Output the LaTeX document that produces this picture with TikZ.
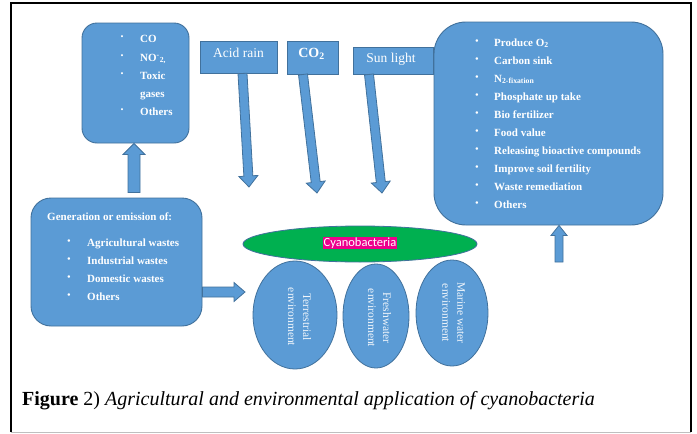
\documentclass[tikz,border=0pt]{standalone}
\usepackage{fontspec}
\setmainfont{Liberation Serif}
\newfontfamily\calfont{Carlito}
\usetikzlibrary{calc,shapes.geometric}
\definecolor{boxblue}{HTML}{5B9BD5}
\definecolor{boxline}{HTML}{41719C}
\definecolor{cyangreen}{HTML}{00B050}
\tikzset{
  blbox/.style={rectangle, draw=boxline, fill=boxblue, line width=0.9pt, inner sep=0},
  boxtxt/.style={text=white, font=\fontsize{11}{13}\selectfont\bfseries, anchor=base west, inner sep=0},
  bul/.style={text=white, font=\fontsize{10.5}{12}\selectfont, inner sep=0},
  toptxt/.style={text=white, font=\fontsize{13.5}{15}\selectfont, inner sep=0},
  envell/.style={ellipse, draw=boxline, fill=boxblue, line width=0.8pt, inner sep=0},
  envtxt/.style={text=white!90!boxblue, font=\fontsize{11.5}{15}\selectfont, align=center, rotate=-90, inner sep=0},
  barrow/.style n args={3}{draw=boxline, fill=boxblue, line width=0.8pt, line join=miter,
    to path={let \p1=(\tikztostart), \p2=(\tikztotarget),
      \n1={atan2(\y2-\y1,\x2-\x1)}, \n2={veclen(\x2-\x1,\y2-\y1)} in
      {[shift={(\p1)}, rotate=\n1] (0,-#1) -- ({\n2-#3},-#1) -- ({\n2-#3},-#2) -- (\n2,0)
        -- ({\n2-#3},#2) -- ({\n2-#3},#1) -- (0,#1) -- cycle}}}
}
\begin{document}
\begin{tikzpicture}[x=1pt,y=-1pt]
\useasboundingbox (0,0) rectangle (697,434);
\fill[white] (0,0) rectangle (697,434);
% frame
\draw[black, line width=1.8pt] (11,432) -- (11,3) -- (691,3) -- (691,432);
\draw[black!25, line width=0.8pt] (11,432.5) -- (691,432.5);

% top-left box
\node[blbox, rounded corners=15, minimum width=107, minimum height=120] (tl) at (135.5,83) {};
\foreach \yy/\t [count=\i] in {38/CO, 57/{NO\textsuperscript{-}\textsubscript{2,}}, 75/Toxic, 111/Others} {
  \node[bul, font=\fontsize{8.5}{10}\selectfont] (tlb\i) at (122,\yy) {\textbullet};
  \node[boxtxt] (tlt\i) at (140,\yy+4) {\t};
}
\node[boxtxt] (tlg) at (140,93+4) {gases};

% bottom-left box
\node[blbox, rounded corners=20, minimum width=171, minimum height=128] (lbox) at (116.5,262) {};
\node[boxtxt] (lhead) at (47,216+4) {Generation or emission of:};
\foreach \t [count=\i from 0] in {Agricultural wastes, Industrial wastes, Domestic wastes, Others} {
  \node[bul] (lb\i) at (69,242+18*\i) {\textbullet};
  \node[boxtxt] (lt\i) at (87,242+18*\i+4) {\t};
}

% right box
\node[blbox, rounded corners=32, minimum width=229, minimum height=203] (rbox) at (548.5,123.5) {};
\foreach \t [count=\i from 0] in {{Produce O\textsubscript{2}}, {Carbon sink}, {N\textsubscript{2-fixation}},
  {Phosphate up take}, {Bio fertilizer}, {Food value}, {Releasing bioactive compounds},
  {Improve soil fertility}, {Waste remediation}, {Others}} {
  \node[bul] (rb\i) at (477,42+18*\i) {\textbullet};
  \node[boxtxt] (rt\i) at (494,42+18*\i+4) {\t};
}

% top small boxes
\node[blbox, minimum width=77, minimum height=32] (acid) at (238.5,57) {};
\node[toptxt] (acidt) at (238.5,53) {Acid rain};
\node[blbox, minimum width=51, minimum height=33] (co2) at (312.5,57.5) {};
\node[toptxt, font=\fontsize{14}{16}\selectfont\bfseries] (co2t) at (311.5,54) {CO\textsubscript{2}};
\node[blbox, minimum width=80, minimum height=27] (sun) at (393,60.5) {};
\node[toptxt] (sunt) at (391,59) {Sun light};

% cyanobacteria and environments
\node[ellipse, draw=boxline, fill=cyangreen, line width=0.8pt, inner sep=0,
  minimum width=234, minimum height=36] (cyano) at (360,244) {};
\node[fill=magenta, text=white, font=\calfont\fontsize{12.5}{14}\selectfont, inner sep=0.6pt] (cyanot) at (360,243) {Cyanobacteria};
\node[envell, minimum width=84, minimum height=108] (terr) at (295,315) {};
\node[envtxt] (terrt) at (299.5,317) {Terrestrial\\environment};
\node[envell, minimum width=66, minimum height=104] (fresh) at (376,316) {};
\node[envtxt] (fresht) at (379.5,318) {Freshwater\\environment};
\node[envell, minimum width=72, minimum height=106] (marine) at (452,313) {};
\node[envtxt] (marinet) at (453.5,313) {Marine water\\environment};

% block arrows
\coordinate (acidS) at ($(acid.south)+(4,0)$);
\coordinate (acidE) at (249,187);
\coordinate (co2S) at ($(co2.south)+(-9.5,0)$);
\coordinate (co2E) at (317,193);
\coordinate (sunS) at ($(sun.south)+(-24,0)$);
\coordinate (sunE) at (382,193);
\coordinate (upS) at ($(lbox.north)+(17.5,-5)$);
\coordinate (upE) at ($(tl.south)+(-1.5,0)$);
\coordinate (rtE) at (245,292);
\coordinate (rtS) at (lbox.east |- rtE);
\coordinate (ruS) at (559,262);
\coordinate (ruE) at (rbox.south -| ruS);
\draw[barrow={4.5}{9.5}{11}] (acidS) to (acidE);
\draw[barrow={4.5}{9.5}{11}] (co2S) to (co2E);
\draw[barrow={4.5}{9.5}{11}] (sunS) to (sunE);
\draw[barrow={6}{11}{11}] (upS) to (upE);
\draw[barrow={5}{9.5}{11}] (rtS) to (rtE);
\draw[barrow={4}{8}{10}] (ruS) to (ruE);

% caption
\node[anchor=west, inner sep=0, font=\fontsize{20}{23}\selectfont] (cap) at (22,401)
  {\textbf{Figure} 2) \textit{Agricultural and environmental application of cyanobacteria}};
\end{tikzpicture}
\end{document}
